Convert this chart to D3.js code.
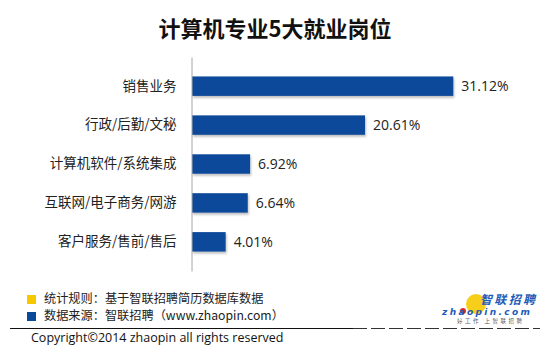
<!DOCTYPE html>
<html><head><meta charset="utf-8">
<script src="https://cdn.jsdelivr.net/npm/d3@7/dist/d3.min.js"></script>
<style>
html,body{margin:0;padding:0;background:#fff;}
svg{display:block;}
</style></head>
<body>
<script>
const categories = ["销售业务", "行政/后勤/文秘", "计算机软件/系统集成", "互联网/电子商务/网游", "客户服务/售前/售后"];
const values = [31.12, 20.61, 6.92, 6.64, 4.01];
const valueLabels = ["31.12%", "20.61%", "6.92%", "6.64%", "4.01%"];
const title = "计算机专业5大就业岗位";
const notes = ["统计规则：基于智联招聘简历数据库数据", "数据来源：智联招聘（www.zhaopin.com）"];
const noteColors = ["#f5c800", "#0b4a9a"];
const copyright = "Copyright©2014 zhaopin all rights reserved";

const W = 550, H = 355;
const latin = "'Open Sans','Noto Sans CJK SC',sans-serif";
const cjk = "'Noto Sans CJK SC','Open Sans',sans-serif";

const svg = d3.select("body").append("svg").attr("width", W).attr("height", H);

const defs = svg.append("defs");
const f = defs.append("filter").attr("id", "sh").attr("x", "-5%").attr("y", "-20%").attr("width", "115%").attr("height", "160%");
f.append("feDropShadow").attr("dx", 1).attr("dy", 2).attr("stdDeviation", 1).attr("flood-color", "#000").attr("flood-opacity", 0.25);

// title
svg.append("text").attr("x", 275).attr("y", 37).attr("text-anchor", "middle")
  .attr("font-family", cjk).attr("font-weight", "bold").attr("font-size", 22).attr("fill", "#111")
  .text(title);

const x0 = 192;
const x = d3.scaleLinear().domain([0, 31.12]).range([x0, 453.3]);
const y = d3.scaleBand().domain(categories).range([57, 271]).padding(0.5);

// bars
svg.append("g").selectAll("rect").data(values).join("rect")
  .attr("x", x(0))
  .attr("y", (d, i) => y(categories[i]))
  .attr("width", d => x(d) - x(0))
  .attr("height", y.bandwidth())
  .attr("fill", "#0b4a9a")
  .attr("filter", "url(#sh)");

// axis line (vertical)
const axis = d3.axisLeft(y).tickSize(0).tickPadding(15);
const ag = svg.append("g").attr("transform", `translate(${x0 - 0.5},0)`).call(axis);
ag.select(".domain").attr("stroke", "#a6a6a6").attr("stroke-width", 1);
ag.selectAll("text").attr("font-family", cjk).attr("font-size", 13.5).attr("fill", "#222");

// value labels
svg.append("g").selectAll("text").data(values).join("text")
  .attr("x", d => x(d) + 8)
  .attr("y", (d, i) => y(categories[i]) + y.bandwidth() / 2)
  .attr("dy", "0.36em")
  .attr("font-family", latin).attr("font-size", 14).attr("fill", "#222")
  .text((d, i) => valueLabels[i]);

// notes
notes.forEach((t, i) => {
  const yy = 303 + i * 17;
  svg.append("rect").attr("x", 27).attr("y", yy - 8).attr("width", 9).attr("height", 9).attr("fill", noteColors[i]);
  svg.append("text").attr("x", 44).attr("y", yy).attr("font-family", cjk).attr("font-size", 12.2).attr("fill", "#222").text(t);
});

// separator line
svg.append("line").attr("x1", 10).attr("x2", 353).attr("y1", 328.5).attr("y2", 328.5).attr("stroke", "#111").attr("stroke-width", 1.2);
svg.append("line").attr("x1", 353).attr("x2", 540).attr("y1", 328.5).attr("y2", 328.5).attr("stroke", "#333").attr("stroke-width", 1.2).attr("stroke-dasharray", "14,4");

// copyright
svg.append("text").attr("x", 31).attr("y", 342).attr("font-family", latin).attr("font-size", 12.5).attr("fill", "#111").text(copyright);

// logo
const lg = svg.append("g");
lg.append("circle").attr("cx", 476).attr("cy", 304).attr("r", 10).attr("fill", "#f7cf1a");
lg.append("circle").attr("cx", 463).attr("cy", 311).attr("r", 3).attr("fill", "#d9302c");
lg.append("text").attr("x", 480).attr("y", 304).attr("font-family", cjk).attr("font-weight", "bold").attr("font-style", "italic")
  .attr("font-size", 12).attr("fill", "#1e5bb8").attr("textLength", 55).text("智联招聘");
lg.append("text").attr("x", 442).attr("y", 315).attr("font-family", "'DejaVu Sans',sans-serif").attr("font-weight", "bold").attr("font-style", "italic")
  .attr("font-size", 9).attr("fill", "#1e5bb8").attr("textLength", 88).text("zhaopin.com");
lg.append("text").attr("x", 457).attr("y", 322.5).attr("font-family", cjk)
  .attr("font-size", 5.5).attr("fill", "#555").attr("textLength", 65).text("好工作 上智联招聘");
</script>
</body></html>
